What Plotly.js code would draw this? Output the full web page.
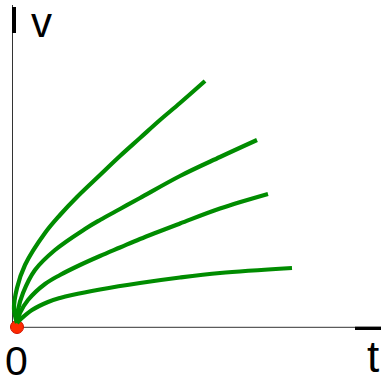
<!DOCTYPE html>
<html>
<head>
<meta charset="utf-8">
<script src="https://cdn.plot.ly/plotly-3.0.1.min.js"></script>
<style>html,body{margin:0;padding:0;background:#fff;}#chart{width:383px;height:383px;}</style>
</head>
<body>
<div id="chart"></div>
<script>
// Curve data (t, v)
const t1 = [0.1, -0.2, 0.1, 0.9, 2.9, 4.4, 6.1, 8.4, 10.4, 12.4, 14.4, 16.4, 18.9];
const v1 = [0.3, 1.7, 3.8, 6.1, 9.3, 11.1, 12.9, 15.1, 17.0, 18.8, 20.6, 22.3, 24.5];
const t2 = [0.1, 0.2, 0.7, 1.9, 3.9, 6.9, 8.4, 10.4, 12.4, 16.4, 20.4, 24.1];
const v2 = [0.3, 1.6, 3.3, 5.6, 7.6, 9.7, 10.6, 11.7, 12.8, 15.0, 16.9, 18.6];
const t3 = [0.1, 0.4, 1.2, 2.9, 4.4, 6.4, 8.4, 10.4, 12.4, 16.4, 20.4, 25.2];
const v3 = [0.3, 1.3, 2.6, 4.2, 5.1, 6.1, 7.0, 7.85, 8.7, 10.25, 11.75, 13.2];
const t4 = [0.1, 0.6, 1.6, 3.2, 4.4, 5.6, 8.4, 12.4, 16.4, 20.4, 27.6];
const v4 = [0.3, 0.8, 1.6, 2.4, 2.8, 3.1, 3.65, 4.3, 4.85, 5.3, 5.8];
const originT = [0.1];
const originV = [-0.1];
const labels = {v: 'v', t: 't', zero: '0'};

// pixel -> data helpers for decoration
const X = px => (px - 16) / 10;
const Y = py => (326 - py) / 10;

const green = '#008c00';
const lineStyle = {color: green, width: 4.2, shape: 'spline', smoothing: 1};
const traces = [{
  x: originT, y: originV, type: 'scatter', mode: 'markers',
  marker: {size: 13, color: '#ff2a00', line: {color: '#d01000', width: 1}}
}];
[[t1, v1], [t2, v2], [t3, v3], [t4, v4]].forEach(([x, y]) => traces.push({
  x, y, type: 'scatter', mode: 'lines', line: lineStyle, hoverinfo: 'skip'
}));

const layout = {
  width: 383, height: 383,
  margin: {l: 0, r: 0, t: 0, b: 0},
  paper_bgcolor: '#fff', plot_bgcolor: '#fff',
  showlegend: false,
  xaxis: {range: [X(0), X(383)], visible: false, fixedrange: true},
  yaxis: {range: [Y(383), Y(0)], visible: false, fixedrange: true},
  shapes: [
    {type: 'line', x0: X(12.5), x1: X(12.5), y0: Y(5), y1: Y(327.3), line: {color: '#333', width: 1}, layer: 'below'},
    {type: 'line', x0: X(12.5), x1: X(381), y0: Y(327.3), y1: Y(327.3), line: {color: '#333', width: 1}, layer: 'below'},
    {type: 'rect', x0: X(12), x1: X(16), y0: Y(7), y1: Y(33), fillcolor: '#000', line: {width: 0}},
    {type: 'rect', x0: X(355), x1: X(381), y0: Y(326.7), y1: Y(330), fillcolor: '#000', line: {width: 0}}
  ],
  annotations: [
    {text: labels.v, x: X(41), y: Y(22), xanchor: 'center', yanchor: 'middle', showarrow: false,
     font: {family: 'Liberation Sans, Arial, sans-serif', size: 42, color: '#000'}},
    {text: labels.t, x: X(373), y: Y(356), xanchor: 'center', yanchor: 'middle', showarrow: false,
     font: {family: 'Liberation Sans, Arial, sans-serif', size: 44, color: '#000'}},
    {text: labels.zero, x: X(16), y: Y(361), xanchor: 'center', yanchor: 'middle', showarrow: false,
     font: {family: 'Liberation Sans, Arial, sans-serif', size: 41, color: '#000'}}
  ]
};
Plotly.newPlot('chart', traces, layout, {staticPlot: true, displayModeBar: false});
</script>
</body>
</html>
